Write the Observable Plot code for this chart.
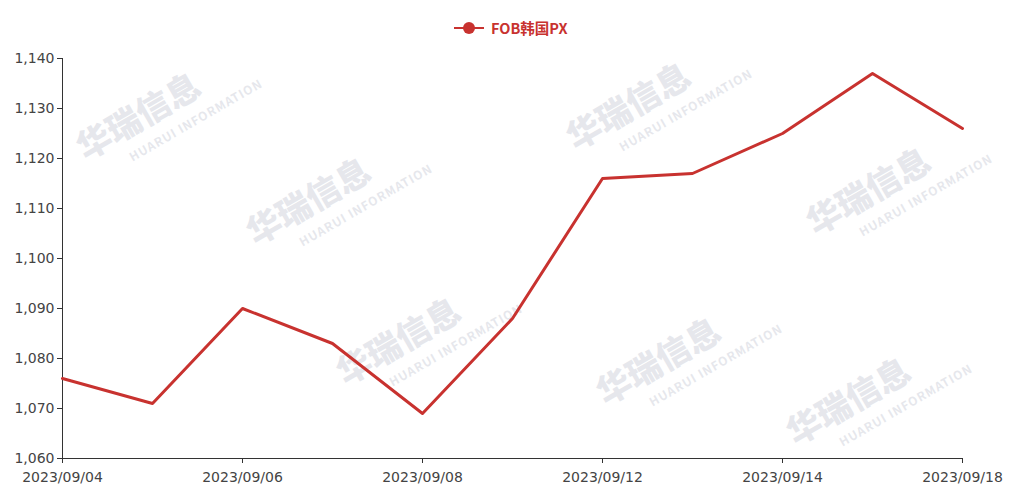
<!DOCTYPE html>
<html><head><meta charset="utf-8">
<script src="https://cdn.jsdelivr.net/npm/d3@7"></script>
<script src="https://cdn.jsdelivr.net/npm/@observablehq/plot@0.6"></script>
<style>
body{margin:0;background:#fff;font-family:"Noto Sans CJK SC","Noto Sans",sans-serif;}
#wrap{position:relative;width:1014px;height:500px;overflow:hidden;}
#legend{position:absolute;top:17px;left:454px;display:flex;align-items:center;color:#c8322f;font-weight:bold;font-size:14.5px;}
#legend svg{margin-right:7px;}
.wm{position:absolute;color:rgba(205,208,218,0.5);font-weight:bold;transform:rotate(-30deg);white-space:nowrap;pointer-events:none;}
.wm b{font-size:34px;display:block;}
.wm i{font-style:normal;font-size:12px;display:block;margin-left:40px;letter-spacing:1px;}
#chart{position:absolute;top:0;left:0;}
</style></head>
<body><div id="wrap"><div id="chart"></div>
<div id="legend"><svg width="30" height="14"><line x1="0" y1="7" x2="30" y2="7" stroke="#c8322f" stroke-width="2"/><circle cx="15" cy="7" r="6" fill="#c8322f"/></svg>FOB韩国PX</div>
</div>
<script>
const dates = ["2023/09/04","2023/09/05","2023/09/06","2023/09/07","2023/09/08","2023/09/11","2023/09/12","2023/09/13","2023/09/14","2023/09/15","2023/09/18"];
const values = [1076,1071,1090,1083,1069,1088,1116,1117,1125,1137,1126];
const yTicks = [1060,1070,1080,1090,1100,1110,1120,1130,1140];
const xTicks = ["2023/09/04","2023/09/06","2023/09/08","2023/09/12","2023/09/14","2023/09/18"];
const seriesName = "FOB韩国PX";

const data = dates.map((d,i)=>({date:d, value:values[i]}));
const fmt = d3.format(",");
const plot = Plot.plot({
  width:1014, height:500,
  marginTop:58, marginBottom:42, marginLeft:62, marginRight:52,
  style:{fontFamily:'"DejaVu Sans",sans-serif', fontSize:"14px", color:"#444", background:"transparent"},
  x:{type:"point", domain:dates, padding:0, label:null},
  y:{domain:[1060,1140], label:null},
  marks:[
    Plot.axisY({ticks:yTicks, tickFormat:fmt, tickSize:5, tickPadding:3, stroke:"#333", color:"#444", fontSize:14, label:null}),
    Plot.ruleX([dates[0]],{stroke:"#333", strokeWidth:1}),
    Plot.ruleY([1060],{stroke:"#333", strokeWidth:1}),
    Plot.axisX({ticks:xTicks, tickSize:5, tickPadding:9, stroke:"#333", color:"#444", fontSize:14, label:null}),
    Plot.line(data,{x:"date", y:"value", stroke:"#c8322f", strokeWidth:3})
  ]
});
document.getElementById("chart").appendChild(plot);
const wmPos = [[70,75],[240,160],[560,65],[330,300],[590,320],[800,150],[780,360]];
const wrap = document.getElementById("wrap");
wmPos.forEach(([x,y])=>{const d=document.createElement("div");d.className="wm";d.style.left=x+"px";d.style.top=y+"px";d.innerHTML="<b>华瑞信息</b><i>HUARUI INFORMATION</i>";wrap.insertBefore(d, wrap.firstChild);});
</script></body></html>
